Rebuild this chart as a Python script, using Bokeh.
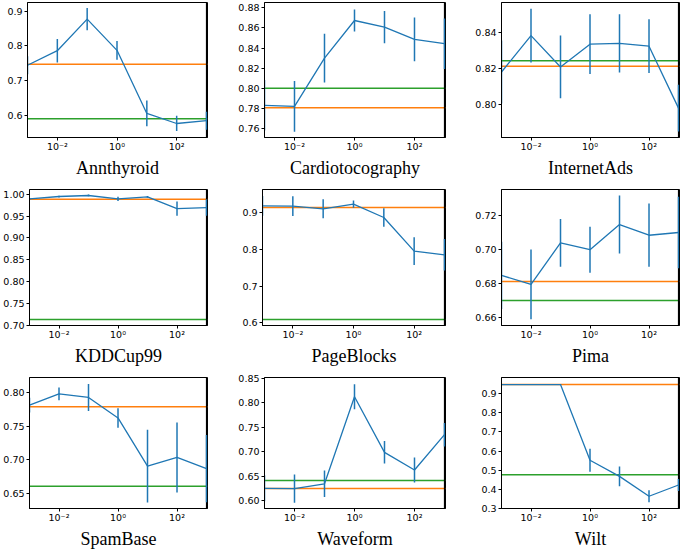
from bokeh.plotting import figure
from bokeh.layouts import column, row
from bokeh.models import Range1d, FixedTicker, Span, ColumnDataSource, PrintfTickFormatter
from bokeh.embed import file_html
from bokeh.resources import INLINE

# ---------------- data ----------------
lambdas = [1e-3, 1e-2, 1e-1, 1e0, 1e1, 1e2, 1e3]
xtick_values = [1e-2, 1e0, 1e2]
xtick_labels = ["10\u207b\u00b2", "10\u2070", "10\u00b2"]

names = ["Annthyroid", "Cardiotocography", "InternetAds",
         "KDDCup99", "PageBlocks", "Pima",
         "SpamBase", "Waveform", "Wilt"]

annthyroid_mean = [0.744, 0.786, 0.877, 0.787, 0.605, 0.576, 0.584]
annthyroid_err = [0.026, 0.034, 0.032, 0.027, 0.037, 0.022, 0.026]

cardio_mean = [0.7833, 0.7823, 0.830, 0.8672, 0.8607, 0.8485, 0.8443]
cardio_err = [0.025, 0.025, 0.024, 0.011, 0.016, 0.0217, 0.025]

internetads_mean = [0.8182, 0.8385, 0.821, 0.8337, 0.8342, 0.8326, 0.798]
internetads_err = [0.0176, 0.015, 0.0175, 0.0167, 0.0163, 0.015, 0.013]

kdd_mean = [0.9893, 0.9947, 0.997, 0.9893, 0.9939, 0.967, 0.9695]
kdd_err = [0.002, 0.002, 0.002, 0.005, 0.002, 0.016, 0.019]

pageblocks_mean = [0.9191, 0.9182, 0.9109, 0.9236, 0.8873, 0.7955, 0.7855]
pageblocks_err = [0.027, 0.027, 0.026, 0.010, 0.025, 0.038, 0.043]

pima_mean = [0.685, 0.6797, 0.7041, 0.7001, 0.7149, 0.7086, 0.7102]
pima_err = [0.0198, 0.0205, 0.014, 0.0135, 0.017, 0.0186, 0.021]

spambase_mean = [0.7814, 0.7981, 0.7928, 0.7623, 0.6906, 0.7035, 0.6868]
spambase_err = [0.011, 0.0094, 0.020, 0.0145, 0.054, 0.052, 0.050]

waveform_mean = [0.6249, 0.6243, 0.6341, 0.8119, 0.6984, 0.6623, 0.7345]
waveform_err = [0.0265, 0.029, 0.027, 0.0256, 0.023, 0.0256, 0.024]

wilt_mean = [0.947, 0.947, 0.947, 0.5516, 0.4678, 0.364, 0.4226]
wilt_err = [0.003, 0.003, 0.003, 0.060, 0.052, 0.031, 0.031]

orange_level = [0.747, 0.781, 0.8214, 0.9885, 0.9145, 0.6814, 0.779, 0.6243, 0.947]
green_level = [0.590, 0.8003, 0.8244, 0.7137, 0.609, 0.6702, 0.6605, 0.6407, 0.476]

yticks = [
    [0.6, 0.7, 0.8, 0.9],
    [0.76, 0.78, 0.80, 0.82, 0.84, 0.86, 0.88],
    [0.80, 0.82, 0.84],
    [0.70, 0.75, 0.80, 0.85, 0.90, 0.95, 1.00],
    [0.6, 0.7, 0.8, 0.9],
    [0.66, 0.68, 0.70, 0.72],
    [0.65, 0.70, 0.75, 0.80],
    [0.60, 0.65, 0.70, 0.75, 0.80, 0.85],
    [0.3, 0.4, 0.5, 0.6, 0.7, 0.8, 0.9],
]
ytick_formats = ["%.1f", "%.2f", "%.2f", "%.2f", "%.1f", "%.2f", "%.2f", "%.2f", "%.1f"]
ylims = [
    (0.5356, 0.925), (0.7515, 0.885), (0.7816, 0.857),
    (0.700, 1.0107), (0.5927, 0.9636), (0.6555, 0.7355),
    (0.6275, 0.8225), (0.5836, 0.8513), (0.300, 0.9838),
]
x_start, x_end = 1e-3, 1.08e3

means = [annthyroid_mean, cardio_mean, internetads_mean, kdd_mean,
         pageblocks_mean, pima_mean, spambase_mean, waveform_mean, wilt_mean]
errs = [annthyroid_err, cardio_err, internetads_err, kdd_err,
        pageblocks_err, pima_err, spambase_err, waveform_err, wilt_err]

# ---------------- layout ----------------
BLUE, ORANGE, GREEN = "#1f77b4", "#ff7f0e", "#2ca02c"
col_geom = [(27, 180, 28), (27, 183, 24), (32, 178, 3)]   # border_left, frame_width, border_right
row_geom = [(2, 135, 49), (3, 136, 49), (3, 135, 39)]     # border_top, frame_height, border_bottom


def make_panel(i):
    r, c = divmod(i, 3)
    bl, fw, br = col_geom[c]
    bt, fh, bb = row_geom[r]
    lo, hi = ylims[i]
    p = figure(x_axis_type="log", x_range=Range1d(x_start, x_end), y_range=Range1d(lo, hi),
               width=bl + fw + br, height=bt + fh + bb,
               min_border_left=bl, min_border_right=br,
               min_border_top=bt, min_border_bottom=bb,
               output_backend="svg", toolbar_location=None)
    p.grid.visible = False
    p.outline_line_color = "black"
    p.outline_line_alpha = 1.0
    p.outline_line_width = 1
    p.background_fill_color = "white"
    p.border_fill_color = "white"

    for ax in (p.xaxis[0], p.yaxis[0]):
        ax.axis_line_color = "black"
        ax.major_tick_line_color = "black"
        ax.major_tick_out = 3
        ax.major_tick_in = 0
        ax.minor_tick_line_color = None
        ax.major_label_text_font = "DejaVu Sans"
        ax.major_label_text_font_size = "9.5px"
        ax.major_label_text_color = "black"

    p.xaxis.major_label_standoff = 0
    p.yaxis.major_label_standoff = 2

    p.xaxis.ticker = FixedTicker(ticks=xtick_values, minor_ticks=[])
    p.xaxis.major_label_overrides = dict(zip(xtick_values, xtick_labels))
    p.xaxis.axis_label = names[i]
    p.xaxis.axis_label_text_font = "Liberation Serif"
    p.xaxis.axis_label_text_font_style = "normal"
    p.xaxis.axis_label_text_font_size = "18px"
    p.xaxis.axis_label_text_color = "black"
    p.xaxis.axis_label_standoff = 3

    p.yaxis.ticker = FixedTicker(ticks=yticks[i], minor_ticks=[])
    p.yaxis.formatter = PrintfTickFormatter(format=ytick_formats[i])

    p.add_layout(Span(location=orange_level[i], dimension="width", level="underlay",
                      line_color=ORANGE, line_width=1.5))
    p.add_layout(Span(location=green_level[i], dimension="width", level="underlay",
                      line_color=GREEN, line_width=1.5))
    # right spine at the last lambda value
    p.add_layout(Span(location=lambdas[-1], dimension="height", level="underlay",
                      line_color="black", line_width=1.2))

    m, e = means[i], errs[i]
    src = ColumnDataSource(dict(x=lambdas, y=m,
                                lower=[a - b for a, b in zip(m, e)],
                                upper=[a + b for a, b in zip(m, e)]))
    p.segment(x0="x", y0="lower", x1="x", y1="upper", source=src,
              line_color=BLUE, line_width=1.5)
    p.line(x="x", y="y", source=src, line_color=BLUE, line_width=1.3)
    return p


panels = [make_panel(i) for i in range(9)]
layout = column(row(*panels[0:3]), row(*panels[3:6]), row(*panels[6:9]))

open("out.html", "w").write(file_html(layout, INLINE))
